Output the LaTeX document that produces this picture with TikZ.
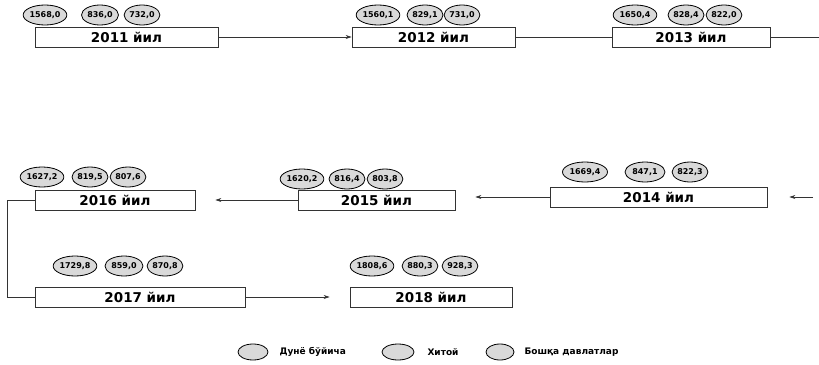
\documentclass[tikz,border=0pt]{standalone}
\usepackage{fontspec}
\setmainfont{DejaVu Sans}
\usetikzlibrary{shapes.geometric,arrows.meta}
\begin{document}
\begin{tikzpicture}[x=1pt,y=-1pt,
  yearbox/.style={draw=black!80,line width=0.8pt,minimum height=20pt,inner sep=0pt,font=\bfseries\fontsize{13.5}{13.5}\selectfont},
  val/.style={ellipse,draw=black,line width=0.8pt,fill=gray!30,minimum height=20pt,inner sep=0pt,font=\bfseries\fontsize{8}{8}\selectfont},
  conn/.style={draw=black!80,line width=0.6pt},
  arr/.style={conn,-{Stealth[length=6pt,width=4pt]}},
  legtext/.style={anchor=west,font=\bfseries\fontsize{9}{9}\selectfont}]
\useasboundingbox (0,0) rectangle (819,364);
% row 1
\node[yearbox,minimum width=183pt] (y11) at (126.5,37) {2011 йил};
\node[val,minimum width=42pt] (a11) at (45,15) {1568,0};
\node[val,minimum width=37pt] (b11) at (100,15) {836,0};
\node[val,minimum width=32pt] (c11) at (142,15) {732,0};
\node[yearbox,minimum width=163pt] (y12) at (433.5,37) {2012 йил};
\node[val,minimum width=42pt] (a12) at (378,15) {1560,1};
\node[val,minimum width=36pt] (b12) at (425,15) {829,1};
\node[val,minimum width=30pt] (c12) at (462,15) {731,0};
\node[yearbox,minimum width=158pt] (y13) at (691,37) {2013 йил};
\node[val,minimum width=42pt] (a13) at (635,15) {1650,4};
\node[val,minimum width=36pt] (b13) at (686,15) {828,4};
\node[val,minimum width=30pt] (c13) at (724,15) {822,0};
% row 2
\node[yearbox,minimum width=160pt] (y16) at (115,200) {2016 йил};
\node[val,minimum width=42pt] (a16) at (42,177) {1627,2};
\node[val,minimum width=36pt] (b16) at (90,177) {819,5};
\node[val,minimum width=32pt] (c16) at (128,177) {807,6};
\node[yearbox,minimum width=157pt] (y15) at (376.5,200) {2015 йил};
\node[val,minimum width=42pt] (a15) at (302,179) {1620,2};
\node[val,minimum width=36pt] (b15) at (347,179) {816,4};
\node[val,minimum width=32pt] (c15) at (385,179) {803,8};
\node[yearbox,minimum width=217pt] (y14) at (658.5,197) {2014 йил};
\node[val,minimum width=45pt] (a14) at (585,172) {1669,4};
\node[val,minimum width=40pt] (b14) at (645,172) {847,1};
\node[val,minimum width=34pt] (c14) at (690,172) {822,3};
% row 3
\node[yearbox,minimum width=210pt] (y17) at (140,297) {2017 йил};
\node[val,minimum width=42pt] (a17) at (75,266) {1729,8};
\node[val,minimum width=38pt] (b17) at (124,266) {859,0};
\node[val,minimum width=34pt] (c17) at (165,266) {870,8};
\node[yearbox,minimum width=162pt] (y18) at (431,297) {2018 йил};
\node[val,minimum width=40pt] (a18) at (372,266) {1808,6};
\node[val,minimum width=35pt] (b18) at (420,266) {880,3};
\node[val,minimum width=32pt] (c18) at (460,266) {928,3};
% connectors
\coordinate (r1) at (819,37);
\coordinate (r2) at (819,197);
\draw[arr] (y11.east) -- (y12.west);
\draw[conn] (y12.east) -- (y13.west);
\draw[conn] (y13.east) -- (r1);
\draw[arr,shorten <=6pt] (r2) -- ([xshift=22pt]y14.east);
\draw[arr,shorten >=20pt] (y14.west) -- (y14.west -| y15.east);
\draw[arr,shorten >=20pt] (y15.west) -- (y15.west -| y16.east);
\draw[conn] (y16.west) -- ++(-27,0) |- (y17.west);
\draw[arr,shorten >=20pt] (y17.east) -- (y18.west);
% legend
\node[val,minimum width=30pt,minimum height=16pt] (l1) at (253,352) {};
\node[legtext] (t1) at (276,352) {Дунё бўйича};
\node[val,minimum width=32pt,minimum height=16pt] (l2) at (398,352) {};
\node[legtext] (t2) at (424,352) {Хитой};
\node[val,minimum width=28pt,minimum height=16pt] (l3) at (500,352) {};
\node[legtext] (t3) at (521,352) {Бошқа давлатлар};
\end{tikzpicture}
\end{document}
